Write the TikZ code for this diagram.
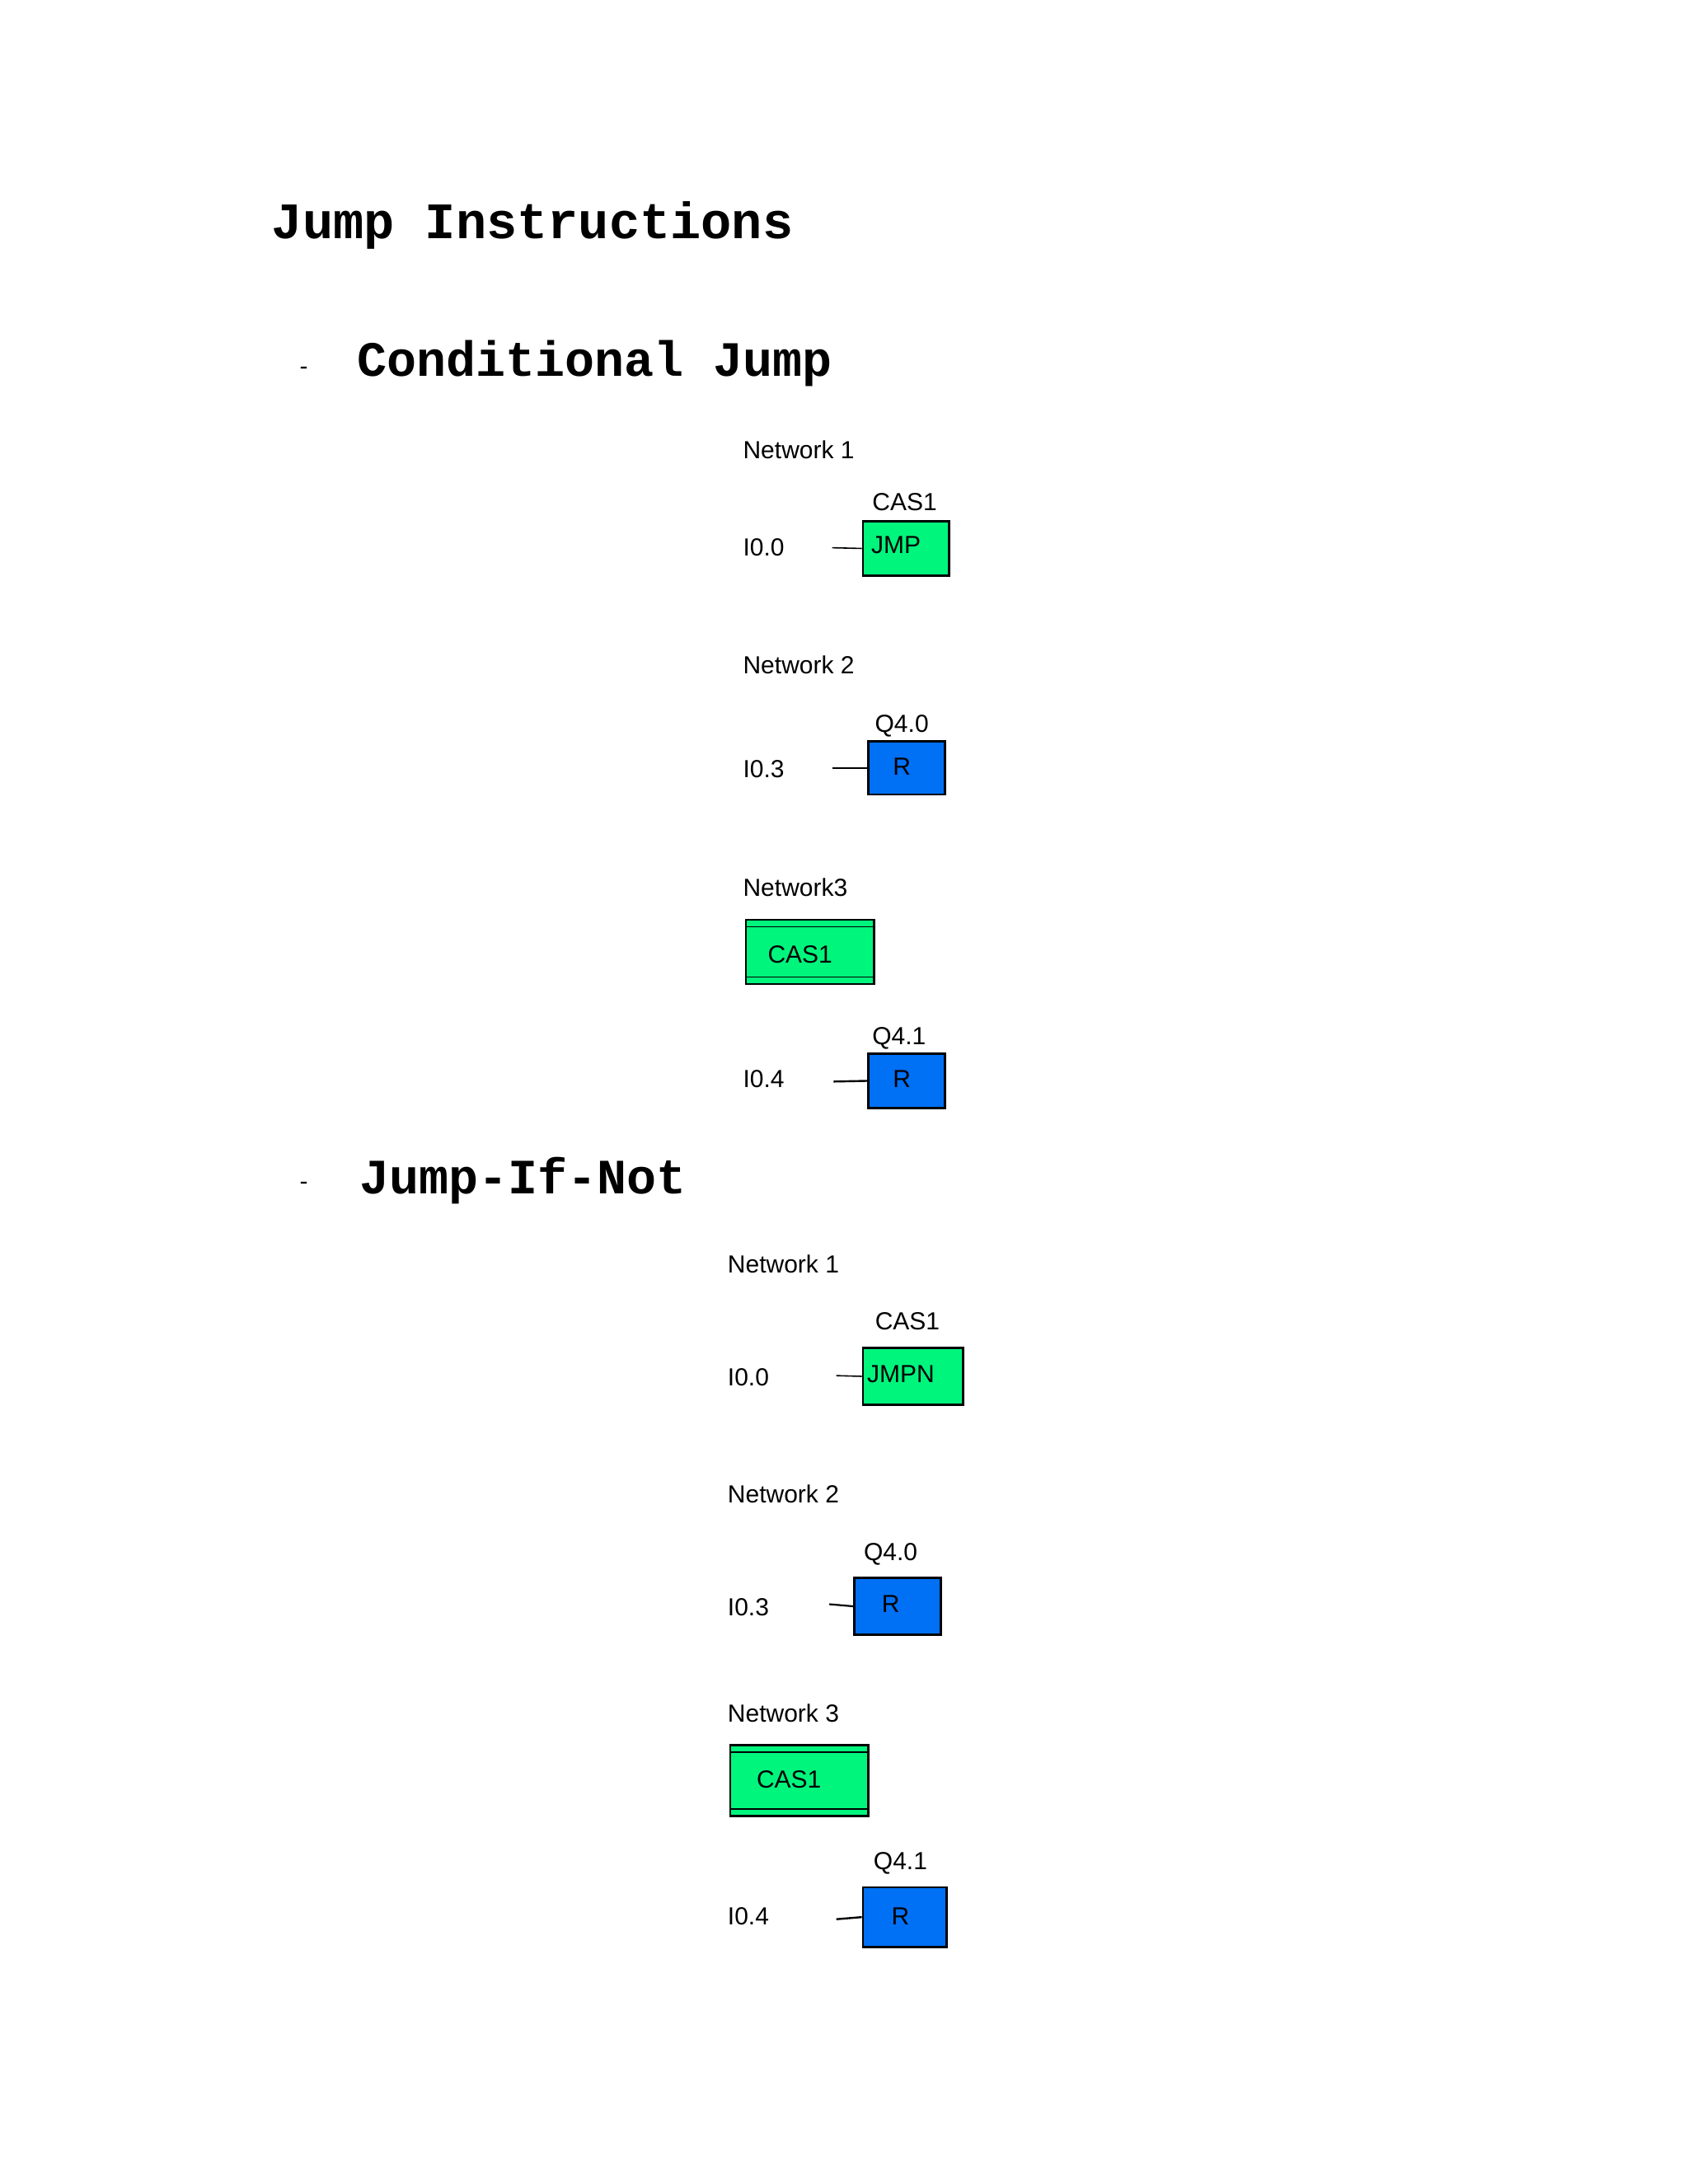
\documentclass[tikz,border=0pt]{standalone}
\usepackage{fontspec}
\setmainfont{Liberation Sans}
\newfontfamily\monob{Liberation Mono}
\definecolor{gbox}{RGB}{0,245,125}
\definecolor{bbox}{RGB}{0,112,245}
\begin{document}
\begin{tikzpicture}[x=1.6912pt,y=-1.6912pt,
  ttl/.style={font=\monob\bfseries\fontsize{60}{60}\selectfont,anchor=west,inner sep=0},
  lbl/.style={font=\fontsize{30}{30}\selectfont,anchor=west,inner sep=0},
  clbl/.style={font=\fontsize{30}{30}\selectfont,inner sep=0},
  jbox/.style={draw,line width=2.5pt,fill=gbox},
  rbox/.style={draw,line width=2.5pt,fill=bbox},
  wire/.style={line width=1.6pt}]
\useasboundingbox (0,0) rectangle (1211,1567);
\node[ttl,font=\monob\bfseries\fontsize{62}{62}\selectfont] (title) at (195,162) {Jump Instructions};
% Conditional jump
\node[clbl] (d1) at (218,266) {-};
\node[ttl] (h1) at (256,261) {Conditional Jump};
\node[lbl] (n11) at (533,323) {Network 1};
\node[jbox,minimum width=62*1.6912pt,minimum height=39*1.6912pt] (jmp) at (650,393.5) {};
\node[clbl,anchor=west] at (625,391) {JMP};
\node[clbl] (c11) at (649,360) {CAS1};
\node[lbl] (i11) at (533,393) {I0.0};
\coordinate (w11) at (597,393);
\draw[wire] (w11) -- (jmp.west);
\node[lbl] (n12) at (533,477) {Network 2};
\node[rbox,minimum width=55*1.6912pt,minimum height=38*1.6912pt] (r12) at (650.5,551) {};
\node[clbl] at (647,550) {R};
\node[clbl] (q12) at (647,521) {Q4.0};
\node[lbl] (i12) at (533,552) {I0.3};
\coordinate (w12) at (597,551);
\draw[wire] (w12) -- (r12.west);
\node[lbl] (n13) at (533,637) {Network3};
\node[jbox,minimum width=92*1.6912pt,minimum height=46*1.6912pt] (lab1) at (581,683) {};
\draw[line width=1.5pt] (535,665) -- (627,665) (535,701) -- (627,701);
\node[clbl] at (574,685) {CAS1};
\node[rbox,minimum width=55*1.6912pt,minimum height=39*1.6912pt] (r13) at (650.5,775.5) {};
\node[clbl] at (647,774) {R};
\node[clbl] (q13) at (645,745) {Q4.1};
\node[lbl] (i13) at (533,774) {I0.4};
\coordinate (w13) at (598,776);
\draw[wire,line width=2.4pt] (w13) -- (r13.west);
% Jump if not
\node[clbl] (d2) at (218,851) {-};
\node[ttl] (h2) at (258,847) {Jump-If-Not};
\node[lbl] (n21) at (522,907) {Network 1};
\node[jbox,minimum width=72*1.6912pt,minimum height=41*1.6912pt] (jmpn) at (655,987.5) {};
\node[clbl,anchor=west] at (622,986) {JMPN};
\node[clbl] (c21) at (651,948) {CAS1};
\node[lbl] (i21) at (522,988) {I0.0};
\coordinate (w21) at (600,987);
\draw[wire] (w21) -- (jmpn.west);
\node[lbl] (n22) at (522,1072) {Network 2};
\node[rbox,minimum width=62*1.6912pt,minimum height=41*1.6912pt] (r22) at (644,1152.5) {};
\node[clbl] at (639,1151) {R};
\node[clbl] (q22) at (639,1115) {Q4.0};
\node[lbl] (i22) at (522,1153) {I0.3};
\coordinate (w22) at (595,1151);
\draw[wire,line width=2.2pt] (w22) -- (r22.west);
\node[lbl] (n23) at (522,1229) {Network 3};
\node[jbox,minimum width=99*1.6912pt,minimum height=51*1.6912pt] (lab2) at (573.5,1277.5) {};
\draw[line width=1.5pt] (524,1257) -- (623,1257) (524,1298) -- (623,1298);
\node[clbl] at (566,1277) {CAS1};
\node[rbox,minimum width=60*1.6912pt,minimum height=43*1.6912pt] (r23) at (649,1375.5) {};
\node[clbl] at (646,1375) {R};
\node[clbl] (q23) at (646,1337) {Q4.1};
\node[lbl] (i23) at (522,1375) {I0.4};
\coordinate (w23) at (600,1377);
\draw[wire,line width=2.4pt] (w23) -- (r23.west);
\end{tikzpicture}
\end{document}
